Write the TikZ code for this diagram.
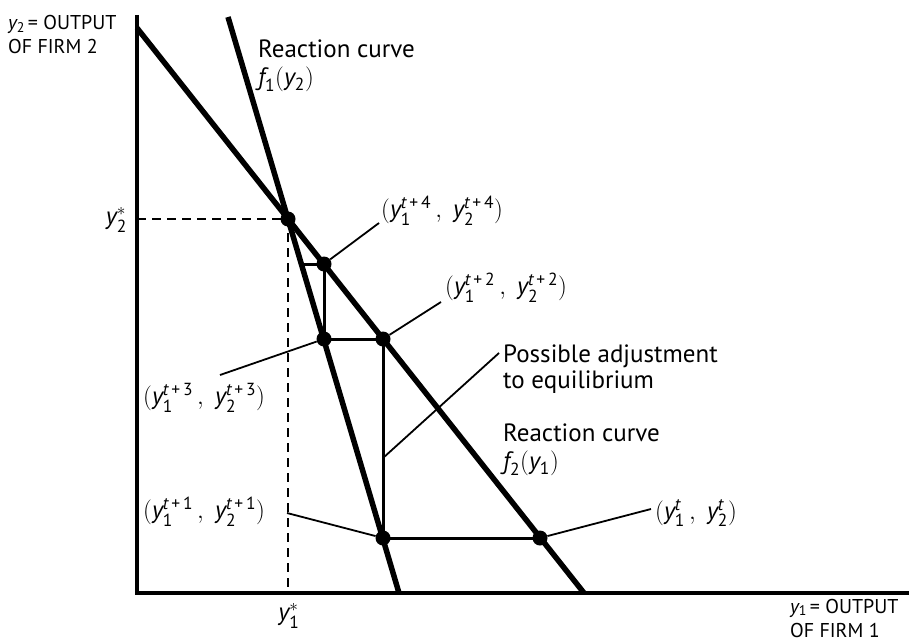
\documentclass[tikz,border=0pt]{standalone}
\usepackage{amsmath}
\usepackage{fontspec}
\setmainfont{PT Sans}
\newcommand\Yv[2]{\text{\itshape y}_{\text{1}}^{\text{\itshape t}\,\text{+}\,\text{#2}}\,,\;\text{\itshape y}_{\text{2}}^{\text{\itshape t}\,\text{+}\,\text{#2}}}
\newcommand\Yi[1]{\text{\itshape y}_{\text{#1}}}
\newcommand\Ys[1]{\text{\itshape y}\raisebox{-0.12em}{\fontsize{14}{14}\selectfont #1}}
\begin{document}
\begin{tikzpicture}[x=1pt,y=-1pt,
  axisline/.style={line width=4pt},
  rcurve/.style={line width=5.5pt},
  adjline/.style={line width=3pt},
  leader/.style={line width=1.8pt},
  dashline/.style={line width=2pt, dash pattern=on 9pt off 6pt},
  dot/.style={circle, fill=black, inner sep=0pt, minimum size=15pt},
  lab/.style={font=\fontsize{25}{29}\selectfont, inner sep=0pt},
  axlab/.style={font=\fontsize{20}{23}\selectfont, inner sep=0pt, anchor=base west}]
\useasboundingbox (0,0) rectangle (909,642);
% axes
\coordinate (Ytop) at (137,15);
\coordinate (O) at (137,593);
\coordinate (Xend) at (909,593);
\draw[axisline] (Ytop) -- (O) -- (Xend);
% reaction curves
\coordinate (f1a) at (228,17);
\coordinate (f1b) at (399,593);
\coordinate (f2a) at (137,28);
\coordinate (f2b) at (584,593);
\draw[rcurve] (f1a) -- (f1b);
\draw[rcurve] (f2a) -- (f2b);
% dashed guides
\coordinate (Y2s) at (137,219);
\coordinate (X1s) at (288,593);
\coordinate (Ec) at (288,219);
\draw[dashline] (Y2s) -- (Ec) -- (X1s);
% adjustment path
\coordinate (P0c) at (540,538);
\coordinate (P1c) at (383,538);
\coordinate (P2c) at (383,339);
\coordinate (P3c) at (324,339);
\coordinate (P4c) at (324,264);
\coordinate (P5c) at (301,264);
\draw[adjline] (P0c) -- (P1c) -- (P2c) -- (P3c) -- (P4c) -- (P5c);
% labels
\node[lab, anchor=west] (L4) at (381,211) {$(\Yv{}{4})$};
\node[lab, anchor=west] (L2) at (445,288) {$(\Yv{}{2})$};
\node[lab, anchor=west] (L3) at (143,398) {$(\Yv{}{3})$};
\node[lab, anchor=west] (L1) at (143,512) {$(\Yv{}{1})$};
\node[lab, anchor=west] (L0) at (655,513) {$(\Yi{1}^{\text{\itshape t}}\,,\;\Yi{2}^{\text{\itshape t}})$};
\node[lab, anchor=base west] (R1a) at (258,57) {Reaction curve};
\node[lab, anchor=base west] (R1b) at (258,85) {$\text{\itshape f}_{\text{1}}(\Yi{2})$};
\node[lab, anchor=base west] (R2a) at (503,441) {Reaction curve};
\node[lab, anchor=base west] (R2b) at (503,469) {$\text{\itshape f}_{\text{2}}(\Yi{1})$};
\node[lab, anchor=base west] (PAa) at (503,362) {Possible adjustment};
\node[lab, anchor=base west] (PAb) at (503,388) {to equilibrium};
\node[lab, anchor=east] (Y2star) at (127,220) {$\Yi{2}^{*}$};
\node[lab] (Y1star) at (289,616) {$\Yi{1}^{*}$};
\node[axlab] (AY1) at (8,30) {\Ys{2}\,= OUTPUT};
\node[axlab] (AY2) at (8,53) {OF FIRM 2};
\node[axlab] (AX1) at (790,613) {\Ys{1}\,= OUTPUT};
\node[axlab] (AX2) at (790,637) {OF FIRM 1};
% leader ends
\coordinate (l4e) at (379,223);
\coordinate (l2e) at (441,302);
\coordinate (l3e) at (220,375);
\coordinate (l1e) at (287,513);
\coordinate (l0e) at (651,509);
\coordinate (adjA) at (499,353);
\coordinate (adjB) at (383,458);
% dots
\node[dot] (E) at (Ec) {};
\node[dot] (P0) at (P0c) {};
\node[dot] (P1) at (P1c) {};
\node[dot] (P2) at (P2c) {};
\node[dot] (P3) at (P3c) {};
\node[dot] (P4) at (P4c) {};
% leaders
\draw[leader] (P4) -- (l4e);
\draw[leader] (P2) -- (l2e);
\draw[leader] (P3) -- (l3e);
\draw[leader] (P1) -- (l1e);
\draw[leader] (P0) -- (l0e);
\draw[leader] (adjA) -- (adjB);
\end{tikzpicture}
\end{document}
